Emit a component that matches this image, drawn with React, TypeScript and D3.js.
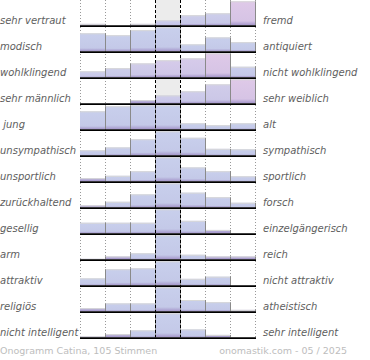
import React from "react";
import * as d3 from "d3";

const leftLabels = ["sehr vertraut", "modisch", "wohlklingend", "sehr männlich", " jung", "unsympathisch", "unsportlich", "zurückhaltend", "gesellig", "arm", "attraktiv", "religiös", "nicht intelligent"];
const rightLabels = ["fremd", "antiquiert", "nicht wohlklingend", "sehr weiblich", "alt", "sympathisch", "sportlich", "forsch", "einzelgängerisch", "reich", "nicht attraktiv", "atheistisch", "sehr intelligent"];

// bar values (0-100, relative to row maximum), 7 steps per row
const values = [
  [6, 0, 6, 21, 42, 50, 100],
  [75, 67, 88, 100, 29, 58, 38],
  [25, 38, 58, 71, 79, 100, 44],
  [0, 0, 13, 33, 50, 79, 100],
  [75, 96, 100, 100, 25, 17, 25],
  [21, 33, 67, 100, 73, 27, 25],
  [13, 23, 42, 100, 58, 42, 21],
  [8, 23, 54, 100, 61, 42, 19],
  [44, 44, 44, 100, 52, 14, 0],
  [2, 12, 25, 100, 19, 12, 12],
  [29, 67, 71, 100, 27, 36, 0],
  [13, 33, 33, 100, 47, 38, 6],
  [4, 13, 29, 100, 33, 10, 0],
];

// pinkness of each bar (0 = blue, 1 = pink)
const tints = [
  [0, 0, 0, 0.2, 0.2, 0.2, 1],
  [0, 0, 0, 0, 0, 0, 0],
  [0.2, 0.2, 0.4, 0.6, 0.6, 1, 0.1],
  [0, 0, 0.2, 0.3, 0.3, 0.4, 1],
  [0, 0, 0, 0, 0, 0, 0],
  [0, 0, 0, 0, 0, 0, 0],
  [0, 0, 0, 0, 0, 0, 0],
  [0, 0, 0, 0, 0, 0, 0],
  [0, 0, 0, 0, 0, 0, 0],
  [0, 0, 0, 0, 0, 0, 0],
  [0, 0, 0, 0, 0, 0, 0],
  [0, 0, 0, 0, 0, 0, 0],
  [0, 0, 0, 0, 0, 0, 0],
];

// rows whose neutral column is shaded
const shadedRows = [1, 0, 0, 1, 0, 0, 0, 0, 0, 0, 0, 0, 0];

const steps = [0, 1, 2, 3, 4, 5, 6];
const footerLeft = "Onogramm Catina, 105 Stimmen";
const footerRight = "onomastik.com - 05 / 2025";

export default function App() {
  const W = 370, H = 360;
  const x = d3.scaleBand<number>().domain(steps).range([80, 255]).padding(0);
  const rowIdx = d3.range(leftLabels.length);
  const rows = d3.scaleBand<number>().domain(rowIdx).range([0, 338]).padding(0);
  const bw = x.bandwidth();
  const baseOff = 25.3;
  const h = d3.scaleLinear().domain([0, 100]).range([0, 24]);
  const blueTop = d3.rgb("#c8cfec");
  const pinkTop = d3.rgb("#dfc9e8");
  const colorAt = d3.interpolateRgb(blueTop, pinkTop);
  const tintLevels = Array.from(new Set(tints.flat())).sort();
  const gid = (t: number) => "g" + String(Math.round(t * 100));
  const bottomY = rows(leftLabels.length - 1)! + baseOff;
  const font = "'DejaVu Sans', Verdana, sans-serif";

  return (
    <svg width={W} height={H} style={{ position: "absolute", left: 0, top: 0, background: "#fff" }}>
      <defs>
        {tintLevels.map((t) => (
          <linearGradient key={t} id={gid(t)} x1="0" y1="0" x2="0" y2="1">
            <stop offset="0%" stopColor={colorAt(t)} />
            <stop offset="82%" stopColor={d3.interpolateRgb(colorAt(t), "#b3b0da")(0.2)} />
            <stop offset="100%" stopColor="#a394c9" />
          </linearGradient>
        ))}
        <linearGradient id="small" x1="0" y1="0" x2="0" y2="1">
          <stop offset="0%" stopColor="#bcb6de" />
          <stop offset="100%" stopColor="#a394c9" />
        </linearGradient>
      </defs>
      {rowIdx.map((i) => {
        const top = rows(i)!;
        const base = top + baseOff;
        return shadedRows[i] ? (
          <rect key={"s" + i} x={x(3)!} y={top} width={bw} height={base - top} fill="#ececec" />
        ) : null;
      })}
      {/* dotted grid lines */}
      {[0, 1, 2, 5, 6, 7].map((k) => {
        const xx = 80 + k * bw;
        return (
          <line key={k} x1={xx + 0.5} x2={xx + 0.5} y1={0} y2={bottomY} stroke="#999" strokeWidth={1} strokeDasharray="1,2" />
        );
      })}
      {rowIdx.map((i) => {
        const top = rows(i)!;
        const base = top + baseOff;
        const vals = values[i];
        return (
          <g key={"r" + i}>
            {steps.map((s) => {
              const bh = h(vals[s]);
              if (bh <= 0) return null;
              const fill = bh < 4 ? "url(#small)" : `url(#${gid(tints[i][s])})`;
              return (
                <g key={s}>
                  <rect x={x(s)!} y={base - bh} width={bw} height={bh} fill={fill} />
                  <line x1={x(s)!} x2={x(s)! + bw} y1={base - bh + 0.5} y2={base - bh + 0.5} stroke="#d8d8d8" strokeWidth={1} />
                </g>
              );
            })}
            {steps.map((s) => {
              const lh = Math.max(h(vals[s]), s < 6 ? h(vals[s + 1]) : 0);
              if (lh <= 0) return null;
              const xx = x(s)! + bw;
              return <line key={"e" + s} x1={xx + 0.5} x2={xx + 0.5} y1={base - lh} y2={base} stroke="#8a8a8a" strokeWidth={1} />;
            })}
            <line x1={80} x2={256} y1={base + 0.8} y2={base + 0.8} stroke="#000" strokeWidth={1.6} />
            <text x={0} y={base - 1.6} fontFamily={font} fontStyle="italic" fontSize={10} fill="#5e5e5e" style={{ whiteSpace: "pre" }}>
              {leftLabels[i]}
            </text>
            <text x={263} y={base - 1.6} fontFamily={font} fontStyle="italic" fontSize={10} fill="#5e5e5e">
              {rightLabels[i]}
            </text>
          </g>
        );
      })}
      {/* dashed neutral-column lines */}
      {[3, 4].map((k) => {
        const xx = 80 + k * bw;
        return (
          <line key={"d" + k} x1={xx + 0.5} x2={xx + 0.5} y1={0} y2={bottomY} stroke="#000" strokeWidth={1} strokeDasharray="3,2" />
        );
      })}
      <text x={0} y={354} fontFamily={font} fontSize={9.5} fill="#bdbdbd">{footerLeft}</text>
      <text x={347} y={354} fontFamily={font} fontSize={9.5} fill="#bdbdbd" textAnchor="end">{footerRight}</text>
    </svg>
  );
}
